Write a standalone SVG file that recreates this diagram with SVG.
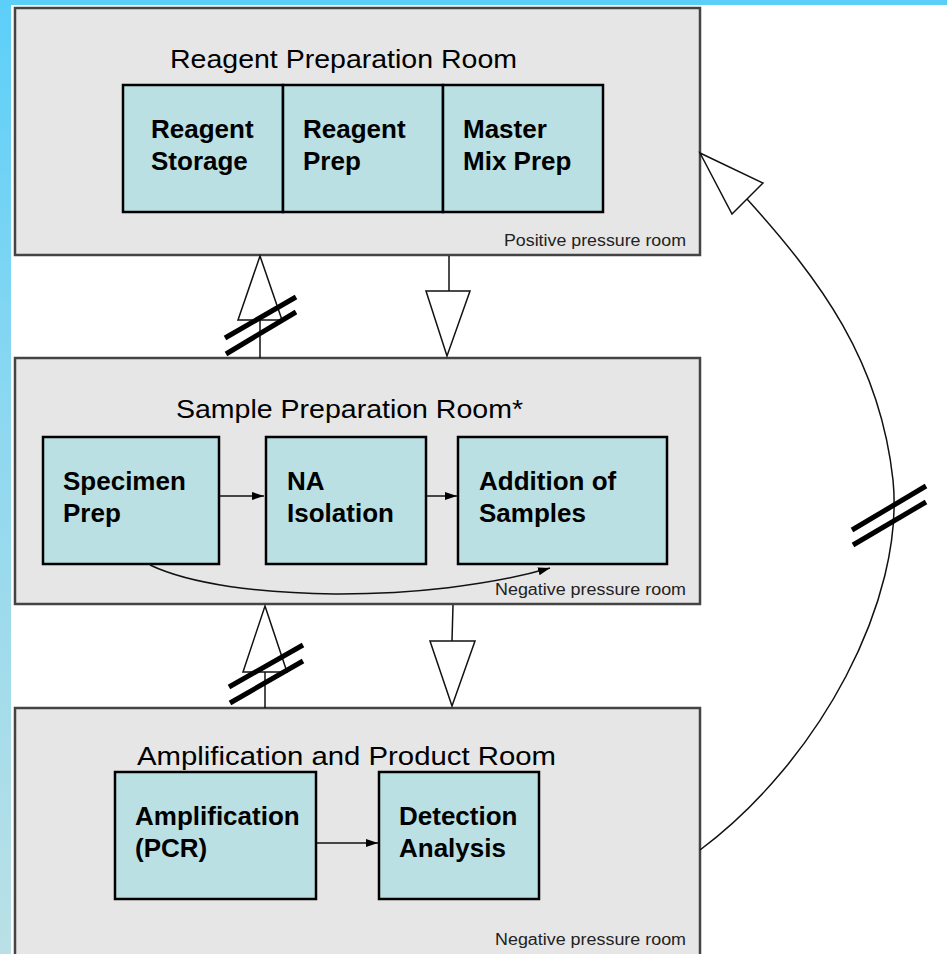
<svg xmlns="http://www.w3.org/2000/svg" width="947" height="954" viewBox="0 0 947 954">
<defs>
<linearGradient id="band" x1="0" y1="0" x2="0" y2="1">
<stop offset="0" stop-color="#5ccff9"/>
<stop offset="0.45" stop-color="#8ed8f0"/>
<stop offset="1" stop-color="#bae0e6"/>
</linearGradient>
<marker id="fa" viewBox="0 0 12 10" refX="12" refY="5" markerWidth="12" markerHeight="10" markerUnits="userSpaceOnUse" orient="auto">
<path d="M0,1 L12,5 L0,9 z" fill="#000"/>
</marker>
</defs>
<style>
.room{fill:#e6e6e6;stroke:#444;stroke-width:2.5}
.box{fill:#bae0e3;stroke:#000;stroke-width:2.5}
.title{font-family:"Liberation Sans",Arial,sans-serif;font-size:26px;fill:#000}
.lbl{font-family:"Liberation Sans",Arial,sans-serif;font-size:26px;font-weight:bold;fill:#000}
.note{font-family:"Liberation Sans",Arial,sans-serif;font-size:16px;fill:#222}
.ln{fill:none;stroke:#111;stroke-width:1.5}
.tri{fill:#fff;stroke:#111;stroke-width:1.5;stroke-linejoin:miter}
.hatch{stroke:#000;stroke-width:5;stroke-linecap:butt}
</style>
<rect x="0" y="0" width="947" height="954" fill="#fff"/>
<rect x="0" y="0" width="947" height="5" fill="#5ccff9"/>
<rect x="0" y="0" width="11" height="954" fill="url(#band)"/>

<g id="room-reagent">
<rect class="room" x="15" y="8" width="685" height="247"/>
<text class="title" x="170" y="68" textLength="347" lengthAdjust="spacingAndGlyphs">Reagent Preparation Room</text>
<text class="note" x="504" y="246" textLength="182" lengthAdjust="spacingAndGlyphs">Positive pressure room</text>
</g>
<g id="reagent-storage">
<rect class="box" x="123" y="85" width="160" height="127"/>
<text class="lbl" x="151" y="138">Reagent</text>
<text class="lbl" x="151" y="170">Storage</text>
</g>
<g id="reagent-prep">
<rect class="box" x="283" y="85" width="160" height="127"/>
<text class="lbl" x="303" y="138">Reagent</text>
<text class="lbl" x="303" y="170">Prep</text>
</g>
<g id="master-mix-prep">
<rect class="box" x="443" y="85" width="160" height="127"/>
<text class="lbl" x="463" y="138">Master</text>
<text class="lbl" x="463" y="170">Mix Prep</text>
</g>

<g id="room-sample">
<rect class="room" x="15" y="358" width="685" height="246"/>
<text class="title" x="176" y="418" textLength="347" lengthAdjust="spacingAndGlyphs">Sample Preparation Room*</text>
<text class="note" x="495" y="595" textLength="191" lengthAdjust="spacingAndGlyphs">Negative pressure room</text>
</g>
<g id="specimen-prep">
<rect class="box" x="43" y="437" width="176" height="127"/>
<text class="lbl" x="63" y="490">Specimen</text>
<text class="lbl" x="63" y="522">Prep</text>
</g>
<g id="na-isolation">
<rect class="box" x="266" y="437" width="160" height="127"/>
<text class="lbl" x="287" y="490">NA</text>
<text class="lbl" x="287" y="522">Isolation</text>
</g>
<g id="addition-of-samples">
<rect class="box" x="458" y="437" width="209" height="127"/>
<text class="lbl" x="479" y="490">Addition of</text>
<text class="lbl" x="479" y="522">Samples</text>
</g>

<g id="room-amplification">
<rect class="room" x="15" y="708" width="685" height="260"/>
<text class="title" x="137" y="765" textLength="419" lengthAdjust="spacingAndGlyphs">Amplification and Product Room</text>
<text class="note" x="495" y="945" textLength="191" lengthAdjust="spacingAndGlyphs">Negative pressure room</text>
</g>
<g id="amplification-pcr">
<rect class="box" x="115" y="772" width="201" height="127"/>
<text class="lbl" x="135" y="825">Amplification</text>
<text class="lbl" x="135" y="857">(PCR)</text>
</g>
<g id="detection-analysis">
<rect class="box" x="379" y="772" width="160" height="127"/>
<text class="lbl" x="399" y="825">Detection</text>
<text class="lbl" x="399" y="857">Analysis</text>
</g>

<g id="connectors">
<line class="ln" x1="220" y1="496" x2="264" y2="496" marker-end="url(#fa)"/>
<line class="ln" x1="427" y1="496" x2="457" y2="496" marker-end="url(#fa)"/>
<line class="ln" x1="317" y1="843" x2="378" y2="843" marker-end="url(#fa)"/>
<path class="ln" d="M150,565 C230,603 430,603 550,568" marker-end="url(#fa)"/>

<line class="ln" x1="260" y1="320" x2="260" y2="358"/>
<polygon class="tri" points="260,256 282,320 238,320"/>
<line class="hatch" x1="225" y1="338" x2="296" y2="297"/>
<line class="hatch" x1="226" y1="354" x2="296" y2="312"/>
<line class="ln" x1="449" y1="256" x2="449" y2="291"/>
<polygon class="tri" points="426,291 470,291 447,356"/>

<line class="ln" x1="265" y1="672" x2="265" y2="708"/>
<polygon class="tri" points="265,606 287,672 243,672"/>
<line class="hatch" x1="229" y1="687" x2="303" y2="645"/>
<line class="hatch" x1="230" y1="703" x2="303" y2="661"/>
<line class="ln" x1="453" y1="605" x2="452" y2="641"/>
<polygon class="tri" points="430,641 475,641 452,706"/>

<path class="ln" d="M700,850 C820,760 905,600 893,480 C880,360 820,280 747,199"/>
<polygon class="tri" points="700,153 763,183 732,214"/>
<line class="hatch" x1="852" y1="530" x2="926" y2="486"/>
<line class="hatch" x1="853" y1="545" x2="926" y2="502"/>
</g>
</svg>
